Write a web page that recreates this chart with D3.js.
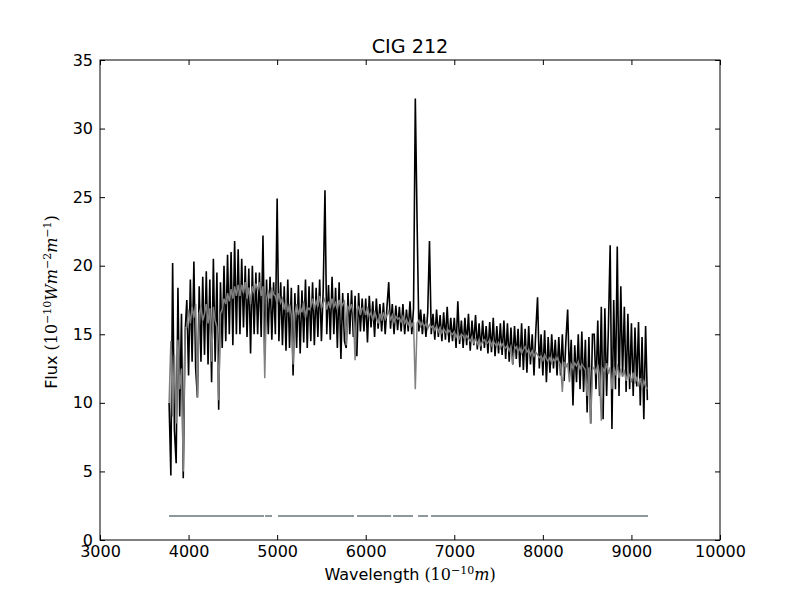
<!DOCTYPE html>
<html>
<meta charset="utf-8">
<head>
<title>CIG 212</title>
<style>
body { margin: 0; background: #fff; }
.tick text { font-family: "DejaVu Sans", sans-serif; font-size: 16px; fill: #000; }
.tick line { stroke: #000; stroke-width: 1px; }
.domain { display: none; }
.label { font-family: "DejaVu Sans", sans-serif; font-size: 16px; }
.math { font-family: "DejaVu Serif", serif; }
.title { font-family: "DejaVu Sans", sans-serif; font-size: 19.2px; text-anchor: middle; }
</style>
</head>
<body>
<script src="https://d3js.org/d3.v7.min.js"></script>
<script>

// spectrum sampled every 20 Angstrom from 3780 to 9180
var wlStart = 3780, wlStep = 20;

var observed = [
  10.0, 4.7, 20.2, 8.0, 5.6, 18.4, 9.0, 16.5, 4.5, 15.0,
  17.5, 12.0, 19.0, 13.0, 20.3, 12.5, 10.4, 18.5, 13.0, 19.2,
  13.5, 19.6, 12.8, 19.0, 11.5, 20.5, 13.0, 19.5, 9.5, 18.8,
  14.0, 20.0, 14.5, 20.8, 15.0, 21.0, 14.2, 21.8, 15.0, 21.2,
  15.0, 20.5, 15.5, 20.0, 14.8, 19.8, 13.6, 20.0, 15.0, 19.5,
  15.0, 19.5, 14.8, 22.2, 13.5, 19.0, 15.0, 19.2, 14.6, 18.8,
  15.0, 24.9, 14.5, 18.8, 14.2, 18.5, 13.8, 19.0, 14.0, 18.4,
  12.0, 18.0, 14.0, 18.6, 13.6, 18.2, 14.4, 19.0, 14.0, 18.5,
  14.5, 18.8, 14.2, 18.4, 14.8, 19.0, 14.5, 18.2, 25.5, 15.0,
  18.6, 14.6, 19.2, 15.0, 18.4, 14.0, 18.8, 13.2, 18.0, 14.5,
  14.0, 18.0, 15.0, 18.2, 14.8, 17.8, 13.4, 18.0, 15.2, 17.6,
  15.2, 17.6, 14.4, 17.8, 15.5, 17.4, 14.8, 17.6, 15.4, 17.2,
  15.2, 17.3, 15.0, 17.0, 18.8, 15.4, 17.2, 15.0, 17.1, 15.3,
  17.0, 15.2, 17.2, 15.0, 16.8, 15.2, 17.4, 15.0, 16.9, 32.2,
  23.2, 15.2, 16.8, 15.0, 16.5, 14.8, 16.6, 21.8, 15.0, 16.5,
  14.6, 16.8, 14.8, 16.4, 14.5, 16.6, 14.6, 17.0, 14.4, 16.2,
  14.5, 16.2, 14.0, 17.4, 14.3, 16.0, 14.0, 16.2, 14.2, 16.5,
  13.8, 16.0, 14.2, 16.4, 13.9, 15.8, 13.8, 16.0, 14.0, 15.6,
  13.6, 15.9, 13.7, 16.2, 13.4, 15.6, 13.6, 15.8, 13.5, 16.0,
  13.2, 15.8, 13.0, 15.5, 12.8, 15.6, 13.2, 15.4, 12.6, 15.8,
  12.4, 15.4, 12.2, 15.6, 12.8, 15.0, 12.0, 15.2, 17.7, 12.5,
  15.0, 12.0, 15.3, 11.5, 14.8, 12.2, 15.0, 12.5, 14.6, 12.0,
  14.8, 12.0, 15.0, 11.6, 14.5, 16.8, 12.0, 14.6, 9.8, 14.2,
  11.5, 15.0, 11.0, 15.2, 10.8, 14.6, 9.3, 14.8, 8.5, 15.0,
  15.0, 11.0, 16.0, 10.5, 17.0, 8.8, 16.9, 10.5, 15.5, 21.5,
  8.1, 17.5, 11.0, 21.4, 10.5, 18.5, 12.0, 17.0, 10.8, 16.5,
  11.0, 15.8, 10.5, 15.5, 11.2, 15.9, 9.8, 14.8, 8.8, 15.6,
  10.2
];

// fitted model flux (gray)
var model = [
  10.0, 14.5, 9.0, 13.5, 8.5, 14.6, 11.0, 12.5, 5.0, 15.5,
  15.5, 16.8, 15.8, 17.0, 16.2, 17.2, 10.4, 16.5, 17.0, 16.0,
  16.5, 17.2, 15.8, 16.9, 13.0, 17.0, 16.0, 15.5, 10.2, 16.5,
  16.8, 17.6, 17.2, 18.0, 17.4, 18.3, 17.6, 18.5, 17.8, 18.6,
  17.8, 18.6, 18.0, 18.8, 17.6, 18.4, 17.2, 18.5, 18.0, 18.7,
  18.2, 18.8, 17.8, 18.5, 11.8, 17.6, 18.2, 17.6, 18.4, 17.9,
  17.8, 17.2, 18.0, 17.3, 17.6, 16.8, 17.5, 16.6, 17.2, 16.4,
  12.8, 16.5, 17.2, 16.4, 17.0, 16.6, 17.4, 16.2, 17.0, 16.8,
  17.0, 17.6, 16.8, 17.4, 17.0, 17.8, 16.9, 17.3, 17.6, 16.8,
  17.4, 16.9, 17.6, 17.0, 17.3, 16.8, 17.5, 16.9, 17.2, 17.4,
  14.2, 17.0, 16.8, 17.2, 16.5, 13.1, 16.8, 17.0, 16.4, 16.9,
  16.9, 16.4, 17.0, 16.3, 16.6, 16.0, 16.7, 16.2, 15.8, 16.5,
  16.0, 16.6, 16.1, 16.4, 16.7, 16.0, 16.4, 15.9, 16.3, 16.1,
  16.2, 15.9, 16.3, 15.8, 16.1, 15.7, 16.0, 15.6, 15.9, 11.0,
  15.8, 16.0, 15.6, 15.9, 15.5, 15.8, 15.4, 15.7, 15.5, 15.6,
  15.3, 15.6, 15.2, 15.5, 15.1, 15.4, 15.2, 15.0, 15.3, 15.1,
  15.0, 15.2, 14.8, 15.1, 14.7, 15.0, 14.9, 14.6, 14.9, 14.7,
  14.5, 14.8, 14.4, 14.7, 14.3, 14.6, 14.2, 14.5, 14.6, 14.3,
  14.4, 14.6, 14.2, 14.5, 14.3, 14.1, 14.4, 14.0, 14.3, 14.1,
  14.0, 14.2, 13.8, 14.1, 12.8, 13.9, 14.1, 13.7, 14.0, 13.6,
  13.9, 14.1, 13.7, 13.9, 13.5, 13.8, 13.4, 13.7, 13.5, 13.3,
  13.4, 13.1, 13.5, 13.2, 13.0, 13.3, 12.9, 13.2, 13.0, 13.3,
  13.0, 12.8, 10.8, 13.0, 12.6, 12.9, 11.5, 12.8, 12.5, 12.9,
  12.7, 13.0, 12.5, 12.8, 12.6, 12.4, 10.5, 12.6, 8.5, 12.4,
  12.6, 12.2, 12.8, 12.0, 8.7, 12.5, 12.3, 12.9, 12.1, 12.6,
  11.0, 12.6, 12.0, 12.8, 11.8, 12.5, 11.9, 12.4, 11.6, 12.2,
  12.0, 11.5, 12.2, 11.4, 11.9, 11.2, 11.8, 11.0, 11.6, 11.2,
  11.0
];

// good-pixel mask segments drawn near the bottom
var maskStart = [3779, 4863, 5010, 5902, 6308, 6591, 6737];
var maskEnd   = [4852, 4942, 5868, 6286, 6534, 6704, 9187];
var maskLevel = 1.75;

var xTicks = [3000, 4000, 5000, 6000, 7000, 8000, 9000, 10000];
var yTicks = [0, 5, 10, 15, 20, 25, 30, 35];

var margin = {top: 60, right: 80, bottom: 60, left: 100},
    width = 800 - margin.left - margin.right,
    height = 600 - margin.top - margin.bottom;

var svg = d3.select("body").append("svg")
    .attr("width", 800)
    .attr("height", 600);

var x = d3.scaleLinear().domain([3000, 10000]).range([margin.left, margin.left + width]);
var y = d3.scaleLinear().domain([0, 35]).range([margin.top + height, margin.top]);

var wl = observed.map(function(d, i) { return wlStart + i * wlStep; });

svg.append("clipPath").attr("id", "plotArea")
  .append("rect")
    .attr("x", margin.left).attr("y", margin.top)
    .attr("width", width).attr("height", height);

var plot = svg.append("g").attr("clip-path", "url(#plotArea)");

var line = d3.line()
    .x(function(d, i) { return x(wl[i]); })
    .y(function(d) { return y(d); });

plot.append("path")
    .datum(observed)
    .attr("d", line)
    .style("fill", "none")
    .style("stroke", "#000")
    .style("stroke-width", 1.6);

plot.append("path")
    .datum(model)
    .attr("d", line)
    .style("fill", "none")
    .style("stroke", "#808080")
    .style("stroke-width", 1.5);

plot.selectAll(".mask")
    .data(maskStart).enter()
  .append("line")
    .attr("class", "mask")
    .attr("x1", function(d) { return x(d); })
    .attr("x2", function(d, i) { return x(maskEnd[i]); })
    .attr("y1", y(maskLevel))
    .attr("y2", y(maskLevel))
    .style("stroke", "#66767a")
    .style("stroke-width", 1.5);

// axes, ticks inside like classic matplotlib
svg.append("g")
    .attr("transform", "translate(0," + (margin.top + height) + ")")
    .call(d3.axisBottom(x).tickValues(xTicks).tickSize(-5).tickPadding(6).tickFormat(d3.format("d")));

svg.append("g")
    .attr("transform", "translate(0," + margin.top + ")")
    .call(d3.axisTop(x).tickValues(xTicks).tickSize(-5).tickFormat(""));

svg.append("g")
    .attr("transform", "translate(" + margin.left + ",0)")
    .call(d3.axisLeft(y).tickValues(yTicks).tickSize(-5).tickPadding(7).tickFormat(d3.format("d")));

svg.append("g")
    .attr("transform", "translate(" + (margin.left + width) + ",0)")
    .call(d3.axisRight(y).tickValues(yTicks).tickSize(-5).tickFormat(""));

svg.append("rect")
    .attr("x", margin.left).attr("y", margin.top)
    .attr("width", width).attr("height", height)
    .style("fill", "none")
    .style("stroke", "#000")
    .style("stroke-width", 1);

svg.append("text")
    .attr("class", "title")
    .attr("x", margin.left + width / 2)
    .attr("y", 53)
    .text("CIG 212");

// x label: Wavelength (10^-10 m)
var xl = svg.append("text")
    .attr("class", "label")
    .attr("x", margin.left + width / 2)
    .attr("y", 580)
    .style("text-anchor", "middle");
xl.append("tspan").text("Wavelength ");
xl.append("tspan").attr("class", "math").text("(10");
xl.append("tspan").attr("class", "math").style("font-size", "11px").attr("dy", "-6").text("\u221210");
xl.append("tspan").attr("class", "math").style("font-style", "italic").attr("dy", "6").text("m");
xl.append("tspan").attr("class", "math").text(")");

// y label: Flux (10^-10 W m^-2 m^-1)
var yl = svg.append("text")
    .attr("class", "label")
    .attr("transform", "translate(57,302) rotate(-90)")
    .style("text-anchor", "middle");
yl.append("tspan").text("Flux ");
yl.append("tspan").attr("class", "math").text("(10");
yl.append("tspan").attr("class", "math").style("font-size", "11px").attr("dy", "-6").text("\u221210");
yl.append("tspan").attr("class", "math").style("font-style", "italic").attr("dy", "6").text("Wm");
yl.append("tspan").attr("class", "math").style("font-size", "11px").attr("dy", "-6").text("\u22122");
yl.append("tspan").attr("class", "math").style("font-style", "italic").attr("dy", "6").text("m");
yl.append("tspan").attr("class", "math").style("font-size", "11px").attr("dy", "-6").text("\u22121");
yl.append("tspan").attr("class", "math").attr("dy", "6").text(")");

</script>
</body>
</html>
